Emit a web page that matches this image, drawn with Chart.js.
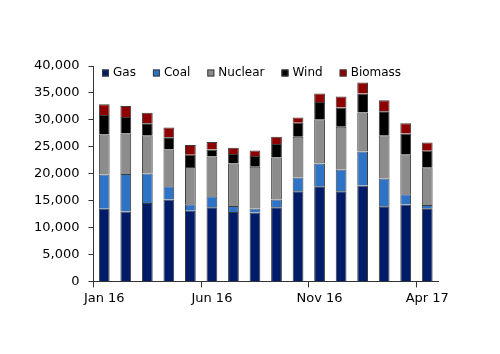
<!DOCTYPE html>
<html>
<head>
<meta charset="utf-8">
<script src="https://cdn.jsdelivr.net/npm/chart.js@4.4.1/dist/chart.umd.min.js"></script>
<style>
  html, body { margin: 0; padding: 0; background: #fff; }
  #wrap { width: 500px; height: 354px; }
</style>
</head>
<body>
<div id="wrap"><canvas id="genChart" width="500" height="354"></canvas></div>
<script>
// Monthly generation by source, Jan 16 - Apr 17
const months = ["Jan 16", "Feb 16", "Mar 16", "Apr 16", "May 16", "Jun 16", "Jul 16", "Aug 16",
  "Sep 16", "Oct 16", "Nov 16", "Dec 16", "Jan 17", "Feb 17", "Mar 17", "Apr 17"];
const gas = [13500, 13000, 14550, 15200, 13100, 13750, 12900, 12800, 13750, 16750, 17650, 16750, 17800, 13950, 14300, 13600];
const coal = [6350, 6950, 5500, 2450, 1250, 2050, 1100, 750, 1450, 2550, 4250, 4050, 6300, 5150, 1900, 600];
const nuclear = [7450, 7500, 7100, 6850, 6900, 7400, 7900, 7750, 7800, 7550, 8200, 7900, 7250, 8050, 7400, 7000];
const wind = [3600, 3100, 2200, 2250, 2250, 1300, 1750, 2000, 2500, 2600, 3200, 3600, 3550, 4450, 3850, 3050];
const biomass = [2000, 2000, 1950, 1850, 1850, 1400, 1150, 1000, 1350, 1000, 1600, 2050, 2050, 2050, 1900, 1550];
const yTicksMax = 40000;
const yStep = 5000;

const FONT = "'DejaVu Sans', sans-serif";
const axisColor = "#333";

const makeSet = (label, data, color) => ({
  label: label,
  data: data,
  backgroundColor: color,
  borderColor: "#3c3c3c",
  borderWidth: 1,
  barPercentage: 0.5,
  categoryPercentage: 1.0,
});

// legend drawn inside the plot area, one row along the top
const insideLegend = {
  id: "insideLegend",
  afterDraw(chart) {
    const c = chart.ctx;
    const area = chart.chartArea;
    let x = 102;
    const y = area.top + 7;
    c.save();
    c.font = "12px " + FONT;
    c.textBaseline = "middle";
    chart.data.datasets.forEach((ds) => {
      c.fillStyle = ds.backgroundColor;
      c.fillRect(x, y - 3.5, 7, 7);
      c.strokeStyle = "#3c3c3c";
      c.lineWidth = 1;
      c.strokeRect(x + 0.5, y - 3, 6, 6);
      c.fillStyle = "#000";
      c.fillText(ds.label, x + 11, y);
      x += 11 + c.measureText(ds.label).width + 17;
    });
    c.restore();
  },
};

const ctx = document.getElementById("genChart").getContext("2d");
new Chart(ctx, {
  type: "bar",
  data: {
    labels: months,
    datasets: [
      makeSet("Gas", gas, "#001c68"),
      makeSet("Coal", coal, "#2e73c6"),
      makeSet("Nuclear", nuclear, "#8c8c8c"),
      makeSet("Wind", wind, "#000000"),
      makeSet("Biomass", biomass, "#8e0000"),
    ],
  },
  options: {
    responsive: false,
    animation: false,
    layout: { padding: { left: 25, right: 62, top: 66, bottom: 45 } },
    plugins: {
      legend: { display: false },
      tooltip: { enabled: false },
    },
    scales: {
      x: {
        stacked: true,
        offset: true,
        border: { color: axisColor, width: 1 },
        grid: {
          offset: true,
          drawOnChartArea: false,
          tickLength: 6,
          color: (c) => (c.index !== undefined && c.index % 5 === 0 ? axisColor : "rgba(0,0,0,0)"),
        },
        ticks: {
          autoSkip: false,
          maxRotation: 0,
          padding: 3,
          color: "#000",
          font: { family: FONT, size: 13 },
          callback: function (val, i) { return i % 5 === 0 ? this.getLabelForValue(val) : ""; },
        },
      },
      y: {
        stacked: true,
        min: 0,
        max: yTicksMax,
        border: { color: axisColor, width: 1 },
        grid: { drawOnChartArea: false, tickLength: 5, color: axisColor },
        ticks: {
          stepSize: yStep,
          padding: 9,
          color: "#000",
          font: { family: FONT, size: 13 },
          callback: (v) => v.toLocaleString("en-US"),
        },
      },
    },
  },
  plugins: [insideLegend],
});
</script>
</body>
</html>
